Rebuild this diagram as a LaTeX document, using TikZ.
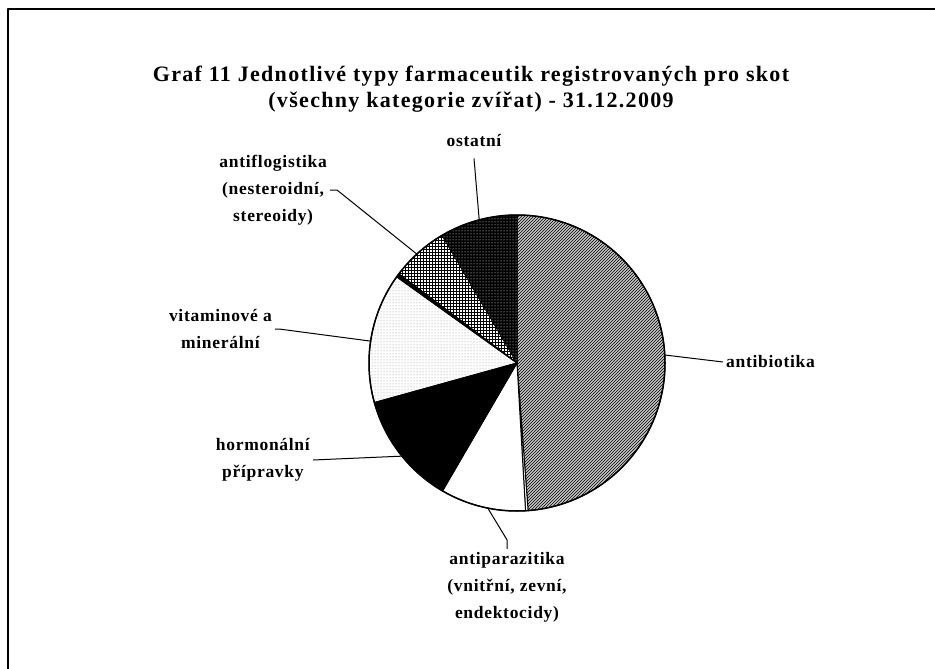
\documentclass[tikz,border=0pt]{standalone}
\usepackage{fontspec}
\setmainfont{Liberation Serif}
\newfontfamily\lblfont[LetterSpace=4]{Liberation Serif}
\newfontfamily\ttlfamily[LetterSpace=6]{Liberation Serif}
\usetikzlibrary{patterns}

\begin{document}
\begin{tikzpicture}[x=1pt,y=-1pt,line join=round,
lbl/.style={font=\lblfont\bfseries\fontsize{17.5}{27}\selectfont, align=center, inner sep=3pt},
ttlfont/.style={font=\ttlfamily\bfseries\fontsize{22}{26}\selectfont, align=center},
slice/.style={draw, line width=1pt},
pHatch/.style={fill=black!22, postaction={pattern=north east lines}},
pWhite/.style={fill=white},
pBlack/.style={fill=black},
pDots/.style={pattern=dots, pattern color=black!45},
pGrid/.style={pattern=grid},
pDark/.style={fill=black, postaction={pattern=dots, pattern color=white}},
leader/.style={line width=1pt}]
\useasboundingbox (0,0) rectangle (935,669);
\draw[line width=2pt] (8,9) rectangle (960,700);

\node (ttl) at (471,89) [ttlfont] {Graf 11 Jednotlivé typy farmaceutik registrovaných pro skot\\
(všechny kategorie zvířat) - 31.12.2009};

% pie
\begin{scope}[shift={(517,363)}, y=1pt]
\foreach \a/\b/\s in {90/-85.7/pHatch, -85.7/-86.7/pWhite, -86.7/-120.2/pWhite,
  -120.2/-164.5/pBlack, -164.5/-215.6/pDots, -215.6/-217/pBlack,
  -217/-239.6/pGrid, -239.6/-270/pDark}
  \draw[slice,\s] (0,0) -- (\a:148) arc[start angle=\a, end angle=\b, radius=148] -- cycle;
\draw[line width=1.5pt] (0,0) circle[radius=148];
\coordinate (antib-e) at (3.1:148);
\coordinate (antipar-e) at (258.6:148);
\coordinate (hormon-e) at (219:148);
\coordinate (vitamin-e) at (171.5:148);
\coordinate (antiflog-e) at (132.6:148);
\coordinate (ostatni-e) at (104.8:148);
\end{scope}

% labels
\node (antib) at (723,362) [lbl, anchor=west] {antibiotika};
\node (antipar) at (507,587) [lbl] {antiparazitika\\(vnitřní, zevní,\\endektocidy)};
\node (hormon) at (313,460) [lbl, anchor=east] {hormonální\\přípravky};
\node (vitamin) at (275,329) [lbl, anchor=east] {vitaminové a\\minerální};
\node (antiflog) at (330,190) [lbl, anchor=east] {antiflogistika\\(nesteroidní,\\stereoidy)};
\node (ostatni) at (474,141) [lbl] {ostatní};

\begin{scope}[leader]
\draw (antib.west) -- (antib-e);
\draw (antipar.north) -- ++(0,-9) -- (antipar-e);
\draw (hormon.east) -- (hormon-e);
\draw (vitamin.east) -- ++(4,0) -- (vitamin-e);
\draw (antiflog.east) -- ++(7,0) -- (antiflog-e);
\draw ([yshift=-8pt]ostatni.south) -- (ostatni-e);
\end{scope}
\end{tikzpicture}
\end{document}
